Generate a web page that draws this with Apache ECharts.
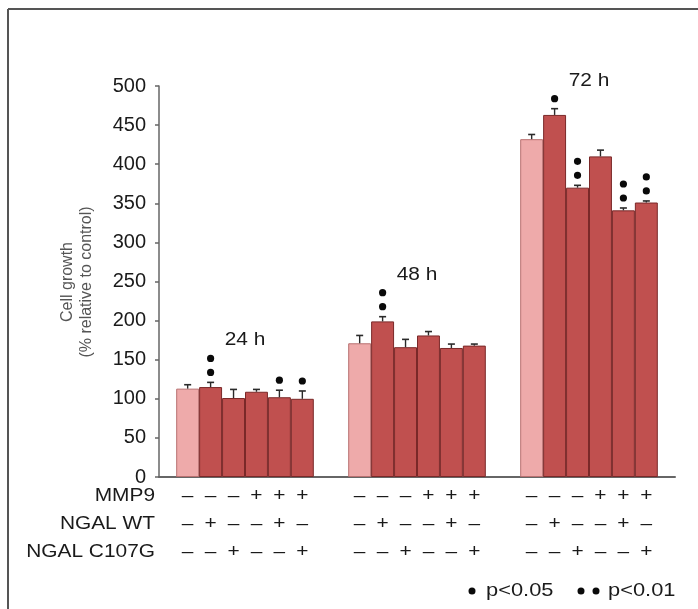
<!DOCTYPE html>
<html><head><meta charset="utf-8">
<script src="https://cdn.jsdelivr.net/npm/echarts@6/dist/echarts.min.js"></script>
<style>html,body{margin:0;padding:0;background:#fff}#c{width:698px;height:609px}</style>
</head><body><div id="c"></div>
<script>
// ---- data ----
const timepoints = ['24 h', '48 h', '72 h'];
const conditions = ['Control', 'NGAL WT', 'NGAL C107G', 'MMP9', 'MMP9 + NGAL WT', 'MMP9 + NGAL C107G'];
// cell growth (% relative to control), one array per condition: [24 h, 48 h, 72 h]
const growthControl   = [113, 171, 432];
const growthNgalWT    = [115, 199, 463];
const growthNgalC107G = [101, 166, 370];
const growthMmp9      = [109, 181, 410];
const growthMmp9WT    = [102, 165, 341];
const growthMmp9C107G = [100, 168, 351];
const growth = [growthControl, growthNgalWT, growthNgalC107G, growthMmp9, growthMmp9WT, growthMmp9C107G];
// error (upper whisker)
const errControl   = [5, 10, 6];
const errNgalWT    = [6, 6, 8];
const errNgalC107G = [11, 10, 3];
const errMmp9      = [3, 5, 8];
const errMmp9WT    = [9, 5, 3];
const errMmp9C107G = [10, 2, 2];
const errors = [errControl, errNgalWT, errNgalC107G, errMmp9, errMmp9WT, errMmp9C107G];
// significance dots (1 = p<0.05, 2 = p<0.01)
const sigControl   = [0, 0, 0];
const sigNgalWT    = [2, 2, 1];
const sigNgalC107G = [0, 0, 2];
const sigMmp9      = [0, 0, 0];
const sigMmp9WT    = [1, 0, 2];
const sigMmp9C107G = [1, 0, 2];
const sig = [sigControl, sigNgalWT, sigNgalC107G, sigMmp9, sigMmp9WT, sigMmp9C107G];
// treatment table
const rowLabels = ['MMP9', 'NGAL WT', 'NGAL C107G'];
const rowMmp9   = ['–', '–', '–', '+', '+', '+'];
const rowNgalWT = ['–', '+', '–', '–', '+', '–'];
const rowC107G  = ['–', '–', '+', '–', '–', '+'];
const tableRows = [rowMmp9, rowNgalWT, rowC107G];
const yTicks = {min: 0, max: 500, interval: 50};
const legendItems = ['p<0.05', 'p<0.01'];

// ---- chart ----
const FONT = 'Liberation Sans, Arial, sans-serif';
const SX = 1.16; // horizontal stretch of the reference lettering
const chart = echarts.init(document.getElementById('c'), null, {renderer: 'canvas'});
const nSer = conditions.length;
function barCenterX(api, g, s) {
  const bandW = api.size([1, 0])[0];
  const barW = bandW * 0.8 / nSer;
  return api.coord([g, 0])[0] - 0.4 * bandW + barW * (s + 0.5);
}
const barSeries = conditions.map((name, s) => ({
  name, type: 'bar', data: growth[s], barGap: '0%', barCategoryGap: '20%',
  itemStyle: s === 0
    ? {color: '#eeaaaa', borderColor: '#b87070', borderWidth: 1}
    : {color: '#c0504f', borderColor: '#7a2828', borderWidth: 1},
  silent: true
}));
const errData = [];
for (let s = 0; s < nSer; s++) for (let g = 0; g < timepoints.length; g++)
  errData.push([g, growth[s][g] + errors[s][g], s, growth[s][g], sig[s][g]]);

const DOT_GAP1 = 10, DOT_GAP = 14, DOT_R = 3.6;
const errSeries = {
  type: 'custom', clip: false, silent: true, z: 5,
  encode: {x: 0, y: 1}, data: errData,
  renderItem(params, api) {
    const g = api.value(0), top = api.value(1), s = api.value(2), val = api.value(3), n = api.value(4);
    const cx = barCenterX(api, g, s);
    const yTop = api.coord([g, top])[1];
    const yBar = api.coord([g, val])[1];
    const ch = [
      {type: 'line', shape: {x1: cx, y1: yBar, x2: cx, y2: yTop}, style: {stroke: '#2a2a2a', lineWidth: 1.4}},
      {type: 'line', shape: {x1: cx - 3.5, y1: yTop, x2: cx + 3.5, y2: yTop}, style: {stroke: '#2a2a2a', lineWidth: 1.6}}
    ];
    for (let k = 0; k < n; k++)
      ch.push({type: 'circle', shape: {cx, cy: yTop - DOT_GAP1 - DOT_GAP * k, r: DOT_R}, style: {fill: '#0a0a0a'}});
    return {type: 'group', children: ch};
  }
};
const labelSeries = {
  type: 'custom', clip: false, silent: true, z: 5,
  encode: {x: 0, y: 1}, data: timepoints.map((t, g) => [g, 0]),
  renderItem(params, api) {
    const g = api.value(0);
    let minY = Infinity;
    for (let s = 0; s < nSer; s++) {
      const n = sig[s][g];
      const y = api.coord([g, growth[s][g] + errors[s][g]])[1] - (n > 0 ? DOT_GAP1 + DOT_GAP * (n - 1) : 0);
      minY = Math.min(minY, y);
    }
    return {type: 'text', x: api.coord([g, 0])[0], y: minY - 18, scaleX: SX,
      style: {text: timepoints[g], align: 'center', verticalAlign: 'middle', font: '18px ' + FONT, fill: '#1a1a1a'}};
  }
};
const tableSeries = {
  type: 'custom', clip: false, silent: true, z: 5,
  encode: {x: 0, y: 1}, data: timepoints.map((t, g) => [g, 0]),
  renderItem(params, api) {
    const g = api.value(0);
    const y0 = api.coord([g, 0])[1];
    const ch = [];
    tableRows.forEach((row, r) => {
      row.forEach((sym, s) => {
        ch.push({type: 'text', x: barCenterX(api, g, s), y: y0 + 19 + 28 * r, scaleX: SX,
          style: {text: sym, align: 'center', verticalAlign: 'middle', font: '18px ' + FONT, fill: '#1a1a1a'}});
      });
    });
    return {type: 'group', children: ch};
  }
};

const graphics = [
  {type: 'line', shape: {x1: 8, y1: 9, x2: 698, y2: 9}, style: {stroke: '#555', lineWidth: 2}},
  {type: 'line', shape: {x1: 8, y1: 9, x2: 8, y2: 609}, style: {stroke: '#555', lineWidth: 2}},
  {type: 'text', x: 77, y: 282, rotation: Math.PI / 2,
    style: {text: 'Cell growth\n(% relative to control)', align: 'center', verticalAlign: 'middle',
      font: '16px ' + FONT, fill: '#555', lineHeight: 19}},
  {type: 'circle', shape: {cx: 472, cy: 591, r: 3.5}, style: {fill: '#0a0a0a'}},
  {type: 'text', x: 486, y: 591, scaleX: 1.15, style: {text: legendItems[0], verticalAlign: 'middle', font: '19px ' + FONT, fill: '#1a1a1a'}},
  {type: 'circle', shape: {cx: 581, cy: 591, r: 3.5}, style: {fill: '#0a0a0a'}},
  {type: 'circle', shape: {cx: 596, cy: 591, r: 3.5}, style: {fill: '#0a0a0a'}},
  {type: 'text', x: 608, y: 591, scaleX: 1.15, style: {text: legendItems[1], verticalAlign: 'middle', font: '19px ' + FONT, fill: '#1a1a1a'}}
];
rowLabels.forEach((t, r) => graphics.push({type: 'text', x: 155, y: 496 + 28 * r, scaleX: SX,
  style: {text: t, align: 'right', verticalAlign: 'middle', font: '18px ' + FONT, fill: '#1a1a1a'}}));

chart.setOption({
  animation: false,
  backgroundColor: '#fff',
  grid: {left: 159, right: 23, top: 86, bottom: 132, containLabel: false},
  xAxis: {type: 'category', data: timepoints,
    axisLine: {lineStyle: {color: '#666', width: 2}}, axisTick: {show: false}, axisLabel: {show: false}},
  yAxis: {type: 'value', min: yTicks.min, max: yTicks.max, interval: yTicks.interval,
    splitLine: {show: false},
    axisLine: {show: true, lineStyle: {color: '#666', width: 1.5}},
    axisTick: {show: true, length: 4, lineStyle: {color: '#666', width: 1.5}},
    axisLabel: {margin: 13, fontSize: 20, fontFamily: FONT, color: '#1a1a1a'}},
  series: [...barSeries, errSeries, labelSeries, tableSeries],
  graphic: graphics
});
</script></body></html>
